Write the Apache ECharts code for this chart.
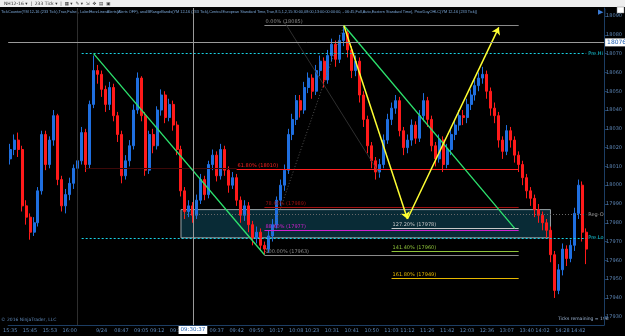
<!DOCTYPE html>
<html>
<head>
  <meta charset="utf-8">
</head>
<body style="margin: 0; background: #000">
  <div id="container" style="width: 625px; height: 336px"></div>

  <script type="text/javascript" src="https://cdn.jsdelivr.net/npm/echarts@6/dist/echarts.min.js"></script>

  <script type="text/javascript">
    var dom = document.getElementById('container');
    var myChart = echarts.init(dom, null, { renderer: 'canvas' });

    const upColor = '#1f6fe0';
    const downColor = '#ff1a1a';

    // 233 tick bars, [open, close, low, high]
    const bars = [
      [18014, 18019, 18011, 18022], [18019, 18024, 18016, 18027], [18024, 18019, 18015, 18028], [18019, 17989, 17986, 18021],
      [17989, 17983, 17979, 17992], [17983, 17975, 17971, 17985], [17975, 17980, 17973, 17983], [17980, 17997, 17978, 17999],
      [17997, 18027, 17995, 18029], [18027, 18011, 18008, 18029], [18011, 18024, 18009, 18026], [18024, 18037, 18021, 18040],
      [18037, 18003, 18000, 18038], [18003, 17989, 17986, 18005], [17989, 17995, 17985, 17998], [17995, 18001, 17992, 18004],
      [18001, 18009, 17998, 18011], [18009, 18013, 18005, 18016], [18013, 18028, 18011, 18031], [18028, 18011, 18007, 18030],
      [18011, 18043, 18009, 18045], [18043, 18061, 18041, 18069], [18061, 18059, 18054, 18064], [18059, 18051, 18047, 18061],
      [18051, 18043, 18039, 18053], [18043, 18052, 18040, 18055], [18052, 18037, 18034, 18054], [18037, 18027, 18023, 18039],
      [18027, 18005, 18001, 18029], [18005, 18013, 18003, 18016], [18013, 18021, 18010, 18024], [18021, 18040, 18019, 18043],
      [18040, 18057, 18038, 18060], [18057, 18037, 18034, 18058], [18037, 18008, 18005, 18039], [18008, 18027, 18006, 18029],
      [18027, 18021, 18017, 18030], [18021, 18040, 18019, 18042], [18040, 18048, 18037, 18051], [18048, 18036, 18033, 18050],
      [18036, 18043, 18034, 18046], [18043, 18032, 18029, 18045], [18032, 18019, 18016, 18034], [18019, 17997, 17994, 18021],
      [17997, 17986, 17982, 17999], [17986, 17989, 17983, 17992], [17989, 17984, 17980, 17991], [17984, 17992, 17982, 17995],
      [17992, 18003, 17990, 18006], [18003, 17995, 17992, 18005], [17995, 18011, 17993, 18013], [18011, 18016, 18008, 18019],
      [18016, 18005, 18002, 18018], [18005, 18019, 18003, 18022], [18019, 18008, 18005, 18021], [18008, 18000, 17996, 18010],
      [18000, 18004, 17998, 18007], [18004, 17992, 17989, 18006], [17992, 17984, 17980, 17994], [17984, 17989, 17981, 17992],
      [17989, 17979, 17975, 17991], [17979, 17972, 17968, 17981], [17972, 17975, 17969, 17978], [17975, 17968, 17965, 17977],
      [17968, 17966, 17963, 17970], [17966, 17973, 17964, 17976], [17973, 17979, 17970, 17982], [17979, 17992, 17977, 17994],
      [17992, 18000, 17989, 18003], [18000, 18008, 17997, 18011], [18008, 18027, 18006, 18030], [18027, 18035, 18024, 18038],
      [18035, 18045, 18032, 18048], [18045, 18040, 18036, 18048], [18040, 18052, 18038, 18055], [18052, 18057, 18049, 18060],
      [18057, 18050, 18046, 18059], [18050, 18061, 18048, 18064], [18061, 18066, 18058, 18069], [18066, 18056, 18052, 18068],
      [18056, 18069, 18054, 18072], [18069, 18075, 18066, 18078], [18075, 18067, 18063, 18077], [18067, 18077, 18065, 18080],
      [18077, 18081, 18074, 18085], [18081, 18072, 18068, 18083], [18072, 18061, 18057, 18074], [18061, 18066, 18058, 18069],
      [18066, 18048, 18044, 18068], [18048, 18035, 18031, 18050], [18035, 18021, 18017, 18037], [18021, 18013, 18009, 18023],
      [18013, 18007, 18003, 18015], [18007, 18011, 18004, 18014], [18011, 18024, 18009, 18027], [18024, 18035, 18022, 18038],
      [18035, 18041, 18032, 18044], [18041, 18045, 18038, 18048], [18045, 18029, 18026, 18047], [18029, 18020, 18016, 18031],
      [18020, 18024, 18017, 18027], [18024, 18032, 18021, 18035], [18032, 18025, 18022, 18034], [18025, 18037, 18023, 18040],
      [18037, 18045, 18034, 18049], [18045, 18035, 18031, 18047], [18035, 18021, 18018, 18037], [18021, 18014, 18010, 18023],
      [18014, 18024, 18012, 18027], [18024, 18011, 18007, 18026], [18011, 18019, 18009, 18022], [18019, 18027, 18016, 18030],
      [18027, 18032, 18024, 18035], [18032, 18037, 18029, 18040], [18037, 18036, 18032, 18040], [18036, 18043, 18033, 18046],
      [18043, 18048, 18040, 18051], [18048, 18053, 18045, 18056], [18053, 18057, 18050, 18060], [18057, 18059, 18054, 18063],
      [18059, 18050, 18046, 18061], [18050, 18041, 18037, 18052], [18041, 18037, 18033, 18044], [18037, 18024, 18020, 18039],
      [18024, 18018, 18014, 18026], [18018, 18029, 18016, 18032], [18029, 18024, 18020, 18031], [18024, 18016, 18012, 18026],
      [18016, 18011, 18007, 18018], [18011, 18004, 18000, 18013], [18004, 17997, 17993, 18006], [17997, 17993, 17989, 17999],
      [17993, 17987, 17983, 17995], [17987, 17984, 17980, 17990], [17984, 17980, 17976, 17986], [17980, 17976, 17972, 17982],
      [17976, 17963, 17959, 17978], [17963, 17944, 17940, 17965], [17944, 17955, 17942, 17958], [17955, 17966, 17952, 17969],
      [17966, 17961, 17957, 17968], [17961, 17968, 17959, 17971], [17968, 17985, 17965, 17988], [17985, 18000, 17982, 18003],
      [18000, 17975, 17970, 18002], [17975, 17966, 17958, 17977]
    ];
    const barCount = 150;

    // bottom time labels: bar index -> text
    const timeIdx = [0, 5, 10, 15, 23, 28, 33, 37, 42, 52, 57, 62, 67, 72, 76, 81, 86, 91, 96, 100, 105, 110, 115, 120, 125, 130, 134, 139, 143];
    const timeText = ['15:35', '15:45', '15:53', '16:00', '9/24', '08:47', '09:05', '09:12', '09:14', '09:37', '09:42', '09:50', '10:17', '10:08',
      '10:23', '10:31', '10:41', '10:50', '11:03', '11:12', '11:26', '11:42', '12:03', '12:36', '13:07', '13:40', '14:02', '14:28', '14:42'];
    const priceTicks = [17930, 17940, 17950, 17960, 17970, 17980, 17990, 18000, 18010, 18020, 18030, 18040, 18050, 18060, 18070, 18080, 18090];

    const preHi = 18070, preLo = 17972, regO = 17984.5;
    const cursorIdx = 46, cursorTime = '09:30:37', cursorPrice = 18076;
    const lastPrice = 17966;
    const dayBreakIdx = 17;
    // IB range box [fromIdx, toIdx, low, high]
    const ibBox = [43, 136, 17972, 17987];

    // fib retracement levels
    const fibRet = [
      { text: '0.00% (18085)', price: 18085, from: 64, color: '#8a8a8a' },
      { text: '61.80% (18010)', price: 18008.5, from: 57, color: '#ff2020' },
      { text: '78.60% (17989)', price: 17988.5, from: 64, color: '#a01010' },
      { text: '88.60% (17977)', price: 17976, from: 64, color: '#d020d0' },
      { text: '100.00% (17963)', price: 17962.5, from: 64, color: '#8a8a8a' }
    ];
    const fibExt = [
      { text: '127.20% (17978)', price: 17977, from: 96, color: '#c8c8c8' },
      { text: '141.40% (17960)', price: 17965, from: 96, color: '#8fc43a' },
      { text: '161.80% (17949)', price: 17950.5, from: 96, color: '#e6b800' }
    ];
    // trend / pattern lines: [fromIdx, fromPrice, toIdx, toPrice]
    const greenLines = [[21, 18070, 64, 17963], [84, 18085, 127, 17977]];
    const yellowLines = [[84, 18085, 99.5, 17982], [99.5, 17982, 123, 18084]];

    const cats = [];
    for (let i = 0; i < barCount; i++) cats.push(String(i));
    const seriesData = bars.slice();
    while (seriesData.length < barCount) seriesData.push('-');

    function seg(a, b, style, label) {
      return [
        { coord: a, lineStyle: Object.assign({ type: 'solid', width: 1 }, style), label: label || { show: false } },
        { coord: b }
      ];
    }
    function tag(text, color) {
      return { show: true, position: 'end', formatter: text, color: color, fontSize: 5, fontFamily: 'DejaVu Sans', distance: 2 };
    }
    function box(text, dist) {
      return { show: true, position: 'end', formatter: text, color: '#1c5db0', backgroundColor: '#fff', fontSize: 6, fontFamily: 'DejaVu Sans', padding: [1, 2], distance: dist };
    }

    const lines = [];
    // prior day / IB lines
    lines.push(seg([18, preHi], [145, preHi], { color: '#19d3e6', type: [2, 2] }, tag('Pre.Hi', '#19d3e6')));
    lines.push(seg([18, preLo], [145, preLo], { color: '#19d3e6', type: [2, 2] }, tag('Pre.Lo', '#19d3e6')));
    lines.push(seg([ibBox[0], regO], [145, regO], { color: '#6a6a6a', type: [1, 2] }, tag('Reg-O', '#a0a0a0')));
    lines.push(seg([19, 18009], [57, 18009], { color: '#3d0808' }));
    // fib lines
    fibRet.concat(fibExt).forEach(function (f) {
      lines.push(seg([f.from, f.price], [128, f.price], { color: f.color },
        { show: true, position: 'insideStartTop', formatter: f.text, color: f.color, fontSize: 5, fontFamily: 'DejaVu Sans', distance: 1 }));
    });
    // fib diagonals (thin gray)
    lines.push(seg([64, 17963], [84, 18085], { color: '#666', type: [1, 2], width: 0.8 }));
    lines.push(seg([69, 18087], [93, 18006], { color: '#3a3a3a', width: 0.8 }));
    greenLines.forEach(function (g) {
      lines.push(seg([g[0], g[1]], [g[2], g[3]], { color: '#2de36e', width: 1.3 }));
    });
    yellowLines.forEach(function (g) {
      lines.push([
        { coord: [g[0], g[1]], lineStyle: { color: '#ffff33', width: 1.5, type: 'solid' }, label: { show: false }, symbol: 'none' },
        { coord: [g[2], g[3]], symbol: 'arrow', symbolSize: 7 }
      ]);
    });
    // crosshair and day break
    lines.push({ xAxis: dayBreakIdx, lineStyle: { color: '#2e2e2e', width: 1, type: 'solid' }, label: { show: false } });
    lines.push({ xAxis: cursorIdx, lineStyle: { color: '#9a9a9a', width: 1, type: 'solid' },
      label: { show: true, position: 'start', formatter: cursorTime, color: '#1c5db0', backgroundColor: '#fff', fontSize: 5.5, fontFamily: 'DejaVu Sans', padding: [1, 2], distance: 1 } });
    lines.push({ yAxis: cursorPrice, lineStyle: { color: '#9a9a9a', width: 1, type: 'solid' }, label: box(String(cursorPrice), 1) });
    lines.push(seg([145, lastPrice], [149, lastPrice], { opacity: 0 }, box(String(lastPrice), 3)));

    var option = {
      backgroundColor: '#000',
      animation: false,
      grid: { left: 0, right: 18, top: 8, bottom: 11 },
      xAxis: {
        type: 'category',
        data: cats,
        boundaryGap: true,
        axisLine: { lineStyle: { color: '#1c3d63' } },
        axisTick: {
          interval: function (idx) { return timeIdx.indexOf(idx) >= 0; },
          length: 3,
          lineStyle: { color: '#1c3d63' }
        },
        axisLabel: {
          interval: function (idx) { return timeIdx.indexOf(idx) >= 0; },
          formatter: function (v) { var k = timeIdx.indexOf(Number(v)); return k >= 0 ? timeText[k] : ''; },
          color: '#5d86b6',
          fontSize: 5,
          fontFamily: 'DejaVu Sans',
          margin: 3
        },
        splitLine: { show: false }
      },
      yAxis: {
        type: 'value',
        position: 'right',
        min: 17925.6,
        max: 18094.3,
        axisLine: { show: true, lineStyle: { color: '#1c3d63' } },
        axisTick: { show: true, customValues: priceTicks, length: 3, lineStyle: { color: '#1c3d63' } },
        axisLabel: {
          customValues: priceTicks,
          formatter: function (v) { return String(v); },
          color: '#5d86b6', fontSize: 5, fontFamily: 'DejaVu Sans', margin: 2
        },
        splitLine: { show: false }
      },
      series: [
        {
          type: 'candlestick',
          data: seriesData,
          barWidth: 2.5,
          itemStyle: {
            color: upColor,
            color0: downColor,
            borderColor: upColor,
            borderColor0: downColor,
            borderWidth: 1
          },
          markArea: {
            silent: true,
            itemStyle: { color: 'rgba(20, 95, 120, 0.45)', borderColor: '#9aa4a8', borderWidth: 1 },
            data: [[{ coord: [ibBox[0], ibBox[3]] }, { coord: [ibBox[1], ibBox[2]] }]]
          },
          markLine: {
            silent: true,
            symbol: ['none', 'none'],
            lineStyle: { type: 'solid' },
            data: lines
          }
        }
      ],
      graphic: [
        { type: 'rect', shape: { x: 0, y: 0, width: 625, height: 7 }, style: { fill: '#eeeeee' } },
        { type: 'text', left: 4, top: 1, style: { text: 'NH12-16 ▾  |  233 Tick ▾  |  ▦ ▾  ✎ ▾  ⇲  ✥  ▤  ▣', fill: '#333', font: '4.5px DejaVu Sans' } },
        { type: 'text', x: 1, y: 10, scaleX: 0.96, style: { text: 'TickCounter(YM 12-16 (233 Tick),True,False), LabelHorzLinesAlerts(Alerts OFF), anaIBRangeBands(YM 12-16 (233 Tick),Central European Standard Time,True,8.5,1,2,15:30:00,08:00,13:00:00:00:00, - 06:45,Full,Auto,Eastern Standard Time), PriorDayOHLC(YM 12-16 (233 Tick))', fill: '#7aa7d8', font: '4px Liberation Sans' } },
        { type: 'text', left: 598, top: 9, style: { text: '▶|', fill: '#3a7bd5', font: 'bold 7px DejaVu Sans' } },
        { type: 'rect', shape: { x: 617, y: 7, width: 7, height: 6 }, style: { fill: '#fff', stroke: '#888', lineWidth: 0.5 } },
        { type: 'text', left: 1, top: 317, style: { text: '© 2016 NinjaTrader, LLC', fill: '#5d86b6', font: '4.5px DejaVu Sans' } },
        { type: 'text', left: 558, top: 316, style: { text: 'Ticks remaining = 196', fill: '#9fb8d8', font: '4.5px DejaVu Sans' } }
      ]
    };

    myChart.setOption(option);
    window.addEventListener('resize', myChart.resize);
  </script>
</body>
</html>
